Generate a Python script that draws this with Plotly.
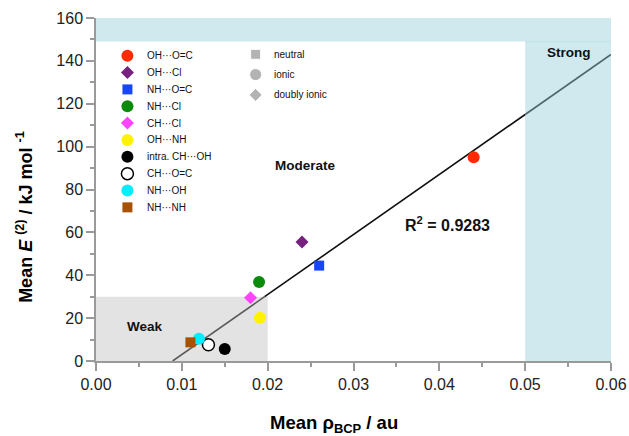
import plotly.graph_objects as go

# ---------------- data ----------------
series_names = ["OH···O=C", "OH···Cl", "NH···O=C", "NH···Cl", "CH···Cl",
                "OH···NH", "intra. CH···OH", "CH···O=C", "NH···OH", "NH···NH"]
rho_bcp = [0.0440, 0.0240, 0.0260, 0.0190, 0.0180, 0.0191, 0.0150, 0.0131, 0.0120, 0.0110]
e2_mean = [95.0, 55.5, 44.5, 36.8, 29.5, 20.2, 5.6, 7.6, 10.4, 8.7]
series_colors = ["#ff2b00", "#77207f", "#1747f5", "#0b8a0b", "#ff44ff",
                 "#fff200", "#000000", "#ffffff", "#00eeff", "#a65200"]
series_symbols = ["circle", "diamond", "square", "circle", "diamond",
                  "circle", "circle", "circle", "circle", "square"]

type_names = ["neutral", "ionic", "doubly ionic"]
type_symbols = ["square", "circle", "diamond"]

# linear fit drawn on the chart
fit_slope = 2800.0
fit_intercept = -25.0
r_squared = 0.9283

# region thresholds
weak_rho, weak_e = 0.02, 30
strong_rho, strong_e = 0.05, 149
x_max, y_max = 0.06, 160

x_ticks = [0.0, 0.01, 0.02, 0.03, 0.04, 0.05, 0.06]
y_ticks = [0, 20, 40, 60, 80, 100, 120, 140, 160]

FONT = "Arial, Liberation Sans, Helvetica, sans-serif"
BLUE = "#d0e9ef"
GREY = "#e3e3e3"
AXC = "#9a9a9a"

def sizes(sym):
    return {"circle": 12, "square": 10, "diamond": 10}[sym]

fig = go.Figure()

# regression line, split into segments by region
x0 = -fit_intercept / fit_slope
x_weak = (weak_e - fit_intercept) / fit_slope
segments = [(x0, x_weak, "#5a5a5a"), (x_weak, strong_rho, "#111111"), (strong_rho, x_max, "#4f666e")]
for a, b, c in segments:
    fig.add_trace(go.Scatter(x=[a, b], y=[fit_slope * a + fit_intercept, fit_slope * b + fit_intercept],
                             mode="lines", line=dict(color=c, width=1.6),
                             showlegend=False, hoverinfo="skip"))

# data points
for n, xv, yv, col, sym in zip(series_names, rho_bcp, e2_mean, series_colors, series_symbols):
    open_marker = col == "#ffffff"
    fig.add_trace(go.Scatter(
        x=[xv], y=[yv], mode="markers", name=n, showlegend=False,
        marker=dict(symbol=sym, size=sizes(sym), color=col, opacity=1,
                    line=dict(color="#000000", width=1.5 if open_marker else 0))))

# custom legend (symbols on a hidden overlay axis spanning the plot area 0..1)
leg1_x, leg1_top, leg1_step = 0.061, 55.7, 16.85
leg2_x, leg2_top, leg2_step = 0.310, 54.3, 20.3
plot_top, plot_h = 18, 343

def py_to_paper(py):
    return 1 - (py - plot_top) / plot_h

leg1_y = [py_to_paper(leg1_top + i * leg1_step) for i in range(len(series_names))]
leg2_y = [py_to_paper(leg2_top + i * leg2_step) for i in range(len(type_names))]

fig.add_trace(go.Scatter(
    x=[leg1_x] * len(series_names), y=leg1_y, xaxis="x2", yaxis="y2", mode="markers",
    showlegend=False, hoverinfo="skip", cliponaxis=False,
    marker=dict(symbol=series_symbols, size=[sizes(s) for s in series_symbols], color=series_colors,
                opacity=1,
                line=dict(color="#000000", width=[1.5 if c == "#ffffff" else 0 for c in series_colors]))))
fig.add_trace(go.Scatter(
    x=[leg2_x] * len(type_names), y=leg2_y, xaxis="x2", yaxis="y2", mode="markers",
    showlegend=False, hoverinfo="skip", cliponaxis=False,
    marker=dict(symbol=type_symbols, size=[sizes(s) for s in type_symbols], color="#b3b3b3",
                opacity=1)))

annotations = []
for n, yy in zip(series_names, leg1_y):
    annotations.append(dict(x=leg1_x + 0.035, y=yy, xref="paper", yref="paper", text=n,
                            showarrow=False, xanchor="left", yanchor="middle",
                            font=dict(family=FONT, size=10, color="#111")))
for n, yy in zip(type_names, leg2_y):
    annotations.append(dict(x=leg2_x + 0.032, y=yy, xref="paper", yref="paper", text=n,
                            showarrow=False, xanchor="left", yanchor="middle",
                            font=dict(family=FONT, size=10, color="#111")))

# region labels
annotations += [
    dict(x=0.0551, y=144.1, text="<b>Strong</b>", showarrow=False,
         font=dict(family=FONT, size=13.5, color="#111")),
    dict(x=0.02435, y=91, text="<b>Moderate</b>", showarrow=False,
         font=dict(family=FONT, size=13.5, color="#111")),
    dict(x=0.00571, y=15.9, text="<b>Weak</b>", showarrow=False,
         font=dict(family=FONT, size=13.5, color="#111")),
    dict(x=0.0409, y=64, text=f"<b>R<sup>2</sup> = {r_squared}</b>", showarrow=False,
         font=dict(family=FONT, size=16, color="#111")),
]

# axis titles
annotations += [
    dict(x=0.462, y=-0.183, xref="paper", yref="paper", text="<b>Mean ρ<sub>BCP</sub> / au</b>",
         showarrow=False, xanchor="center", yanchor="middle",
         font=dict(family=FONT, size=18.5, color="#000")),
    dict(x=-0.138, y=0.42, xref="paper", yref="paper", textangle=-90,
         text="<b>Mean <i>E</i> <sup>(2)</sup> / kJ mol <sup>-1</sup></b>",
         showarrow=False, xanchor="center", yanchor="middle",
         font=dict(family=FONT, size=18, color="#000")),
]

shapes = [
    dict(type="rect", xref="x", yref="y", x0=0, x1=x_max, y0=strong_e, y1=y_max,
         fillcolor=BLUE, line=dict(width=0), layer="below"),
    dict(type="rect", xref="x", yref="y", x0=strong_rho, x1=x_max, y0=0, y1=y_max,
         fillcolor=BLUE, line=dict(width=0), layer="below"),
    dict(type="line", xref="x", yref="y", x0=strong_rho, x1=x_max, y0=strong_e, y1=strong_e,
         line=dict(color="#c2e0e8", width=1), layer="below"),
    dict(type="rect", xref="x", yref="y", x0=0, x1=weak_rho, y0=0, y1=weak_e,
         fillcolor=GREY, line=dict(width=0), layer="below"),
]

axis_common = dict(showgrid=False, zeroline=False, showline=True, linecolor=AXC, linewidth=1.5,
                   ticks="outside", ticklen=8, tickwidth=1.5, tickcolor=AXC, automargin=False,
                   tickfont=dict(family=FONT, size=16, color="#222"))

fig.update_layout(
    width=629, height=436, autosize=False,
    margin=dict(l=96, r=18, t=18, b=75),
    paper_bgcolor="white", plot_bgcolor="white",
    showlegend=False,
    xaxis=dict(range=[0, x_max], tickvals=x_ticks, ticktext=[f"{v:.2f}" for v in x_ticks],
               minor=dict(dtick=0.005, ticks="outside", ticklen=4, tickwidth=1.5, tickcolor=AXC),
               **axis_common),
    yaxis=dict(range=[0, y_max], tickvals=y_ticks,
               minor=dict(dtick=10, ticks="outside", ticklen=4, tickwidth=1.5, tickcolor=AXC),
               **axis_common),
    xaxis2=dict(overlaying="x", range=[0, 1], visible=False),
    yaxis2=dict(overlaying="y", range=[0, 1], visible=False),
    shapes=shapes,
    annotations=annotations,
)

# remove the default 8px page margin so the figure fills the window exactly
fig.write_html("out.html", config={"displayModeBar": False},
               post_script="document.body.style.margin='0px';")
